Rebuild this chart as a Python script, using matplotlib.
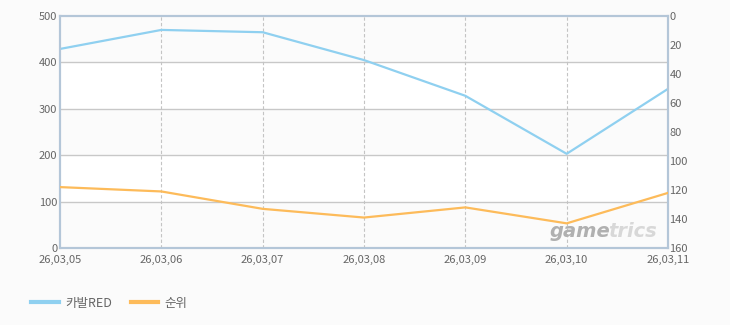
import matplotlib
matplotlib.use("Agg")
import matplotlib.pyplot as plt

plt.rcParams['font.family'] = ['Noto Sans CJK KR', 'DejaVu Sans']

dates = ["26,03,05", "26,03,06", "26,03,07", "26,03,08", "26,03,09", "26,03,10", "26,03,11"]
kabal = [429, 470, 465, 405, 328, 203, 343]
rank = [118, 121, 133, 139, 132, 143, 122]

bg = "#fbfbfb"
fig = plt.figure(figsize=(7.3, 3.25), dpi=100, facecolor=bg)
ax = fig.add_axes([60 / 730, 1 - 248 / 325, 608 / 730, 232 / 325])
ax.set_facecolor("white")
ax2 = ax.twinx()

x = list(range(len(dates)))

# alternating bands
for lo in [0, 200, 400]:
    ax.axhspan(lo, lo + 100, color=bg, zorder=0, lw=0)
for v in [100, 200, 300, 400]:
    ax.axhline(v, color="#c8c8c8", lw=1, zorder=1)
for xi in x[1:-1]:
    ax.axvline(xi, color="#c4c4c4", lw=0.8, ls=(0, (3, 2)), zorder=1)

l1, = ax.plot(x, kabal, color="#8fd0f0", lw=1.6, zorder=3, label="카발RED")
l2, = ax2.plot(x, rank, color="#fdbb5a", lw=1.6, zorder=3, label="순위")

ax.set_xlim(0, len(dates) - 1)
ax.set_ylim(0, 500)
ax.set_yticks([0, 100, 200, 300, 400, 500])
ax2.set_ylim(160, 0)
ax2.set_yticks(range(0, 161, 20))
ax.set_xticks(x)
ax.set_xticklabels(dates)

for a in (ax, ax2):
    for s in a.spines.values():
        s.set_color("#b4c6d8")
        s.set_linewidth(1.5)
    a.tick_params(length=0, labelsize=8, colors="#666666", pad=2)
ax.tick_params(axis="x", pad=5)
ax2.tick_params(axis="y", pad=1)

# watermark
t1 = fig.text(550 / 730, 1 - 237 / 325, "game", fontsize=14, fontweight="bold", style="italic",
              color="#b0b0b0", family="DejaVu Sans", zorder=5)
ax.annotate("trics", xy=(1, 0), xycoords=t1, xytext=(-2, 0), textcoords="offset points",
            fontsize=14, fontweight="bold", style="italic", color="#d8d8d8",
            family="DejaVu Sans", va="bottom", ha="left", annotation_clip=False)

fig.legend(handles=[l1, l2], loc="lower left", bbox_to_anchor=(20 / 730, 4 / 325),
           ncol=2, frameon=False, fontsize=9, handlelength=2.2, columnspacing=1.5,
           handletextpad=0.5, labelcolor="#666666")
for h in fig.legends[0].legend_handles:
    h.set_linewidth(3)

fig.savefig("out.png", dpi=100, facecolor=bg)
